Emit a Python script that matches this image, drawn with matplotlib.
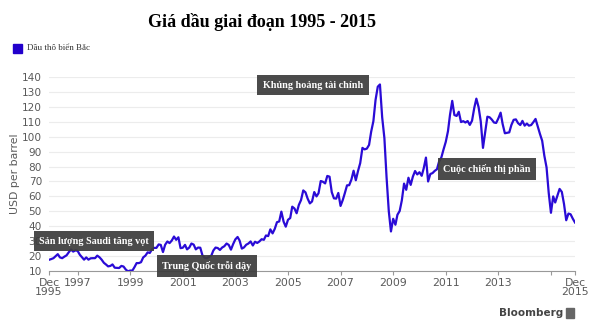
import pandas as pd
import matplotlib
matplotlib.use("Agg")
import matplotlib.pyplot as plt

# Gia dau Brent (bien Bac) theo thang, USD/thung, tu Dec 1995 den Dec 2015
gia_1995 = [17.5]
gia_1996 = [18.0, 18.6, 19.9, 21.3, 19.1, 18.6, 19.6, 20.5, 22.6, 24.4, 23.0, 23.8]
gia_1997 = [23.5, 20.9, 19.3, 17.6, 19.1, 17.6, 18.5, 18.6, 18.6, 20.3, 19.2, 17.6]
gia_1998 = [15.5, 14.3, 13.1, 13.4, 14.4, 12.2, 12.1, 12.0, 13.4, 13.0, 11.0, 9.8]
gia_1999 = [10.3, 10.3, 12.5, 15.3, 15.3, 15.9, 19.1, 20.3, 22.5, 22.1, 24.6, 25.5]
gia_2000 = [25.5, 27.8, 27.5, 22.7, 27.6, 29.8, 28.7, 30.4, 33.1, 30.9, 32.6, 25.3]
gia_2001 = [25.6, 27.5, 24.5, 25.7, 28.4, 27.7, 24.5, 25.7, 25.6, 20.5, 18.9, 18.6]
gia_2002 = [19.5, 20.3, 23.7, 25.7, 25.4, 24.1, 25.7, 26.6, 28.4, 27.5, 24.3, 28.0]
gia_2003 = [31.2, 32.8, 30.4, 25.0, 25.8, 27.6, 28.4, 29.8, 27.1, 29.6, 28.8, 29.8]
gia_2004 = [31.3, 30.9, 33.8, 33.4, 37.9, 35.2, 38.2, 42.7, 43.2, 49.8, 43.1, 39.7]
gia_2005 = [44.3, 45.5, 53.1, 51.9, 48.7, 54.3, 57.5, 64.0, 62.7, 58.5, 55.3, 56.6]
gia_2006 = [62.9, 60.0, 62.1, 70.3, 69.8, 68.7, 73.7, 73.2, 62.8, 58.7, 58.5, 62.3]
gia_2007 = [53.6, 57.6, 62.1, 67.4, 67.5, 71.3, 77.2, 70.8, 77.1, 82.3, 92.5, 91.5]
gia_2008 = [92.0, 94.5, 103.3, 110.4, 124.6, 133.5, 135.0, 113.0, 99.0, 72.8, 50.0, 36.5]
gia_2009 = [45.0, 41.0, 47.7, 50.2, 57.3, 68.6, 64.4, 72.5, 67.7, 73.2, 77.0, 74.7]
gia_2010 = [76.2, 73.8, 78.8, 86.0, 70.0, 75.0, 75.6, 77.1, 78.2, 83.5, 86.1, 91.4]
gia_2011 = [96.5, 103.7, 114.6, 124.0, 114.5, 113.9, 116.7, 109.8, 110.4, 109.5, 110.5, 107.9]
gia_2012 = [110.7, 119.3, 125.5, 119.8, 110.3, 92.5, 102.6, 113.4, 113.0, 111.5, 109.5, 109.2]
gia_2013 = [112.3, 116.1, 108.5, 102.3, 102.6, 102.9, 107.9, 111.3, 111.6, 109.1, 107.8, 110.6]
gia_2014 = [107.4, 108.8, 107.4, 107.8, 109.7, 111.9, 106.9, 101.9, 97.3, 87.3, 79.4, 62.3]
gia_2015 = [49.0, 60.0, 55.9, 60.5, 65.0, 63.0, 55.0, 44.0, 48.5, 48.0, 45.0, 42.5]

gia = (gia_1995 + gia_1996 + gia_1997 + gia_1998 + gia_1999 + gia_2000 + gia_2001
       + gia_2002 + gia_2003 + gia_2004 + gia_2005 + gia_2006 + gia_2007 + gia_2008
       + gia_2009 + gia_2010 + gia_2011 + gia_2012 + gia_2013 + gia_2014 + gia_2015)
thang = pd.date_range("1995-12-01", "2015-12-01", freq="MS")

nam_nhan = [1997, 1999, 2001, 2003, 2005, 2007, 2009, 2011, 2013]

MAU_LINE = "#2a0bd6"
MAU_CHU = "#5a5a5a"
W, H = 600, 333

fig = plt.figure(figsize=(6, 3.33), dpi=100)
fig.patch.set_facecolor("white")
ax = fig.add_axes([49 / W, 1 - 271 / H, (575 - 49) / W, (271 - 77) / H])

ax.plot(thang, gia, color=MAU_LINE, lw=1.6, solid_joinstyle="round", zorder=3)

ax.set_xlim(thang[0], thang[-1])
ax.set_ylim(10, 140)
ax.set_yticks(range(10, 141, 10))
ax.grid(axis="y", color="#ececec", lw=0.8)
ax.tick_params(axis="y", length=0, labelsize=7.6, labelcolor=MAU_CHU, pad=5)

# vach chia: thang 1 cac nam le, them mot vach o 2015 va hai dau truc
vach = [pd.Timestamp(f"{n}-01-01") for n in nam_nhan] + [pd.Timestamp("2015-01-01")]
ax.set_xticks([thang[0]] + vach + [thang[-1]])
ax.set_xticklabels(["Dec\n1995"] + [str(n) for n in nam_nhan] + ["", "Dec\n2015"],
                   linespacing=0.85)
ax.tick_params(axis="x", length=3, color="#999999", labelsize=7.8,
               labelcolor=MAU_CHU, pad=2)
for s in ["top", "right", "left"]:
    ax.spines[s].set_visible(False)
ax.spines["bottom"].set_color("#999999")
fig.text(15 / W, 1 - 174 / H, "USD per barrel", rotation=90, ha="center", va="center",
         fontsize=7.8, color=MAU_CHU)

# tieu de va chu thich
fig.text(262 / W, 1 - 22 / H, "Giá dầu giai đoạn 1995 - 2015", ha="center", va="center",
         fontsize=13, fontweight="bold", family="Liberation Serif")
fig.patches.append(plt.Rectangle((13 / W, 1 - 53 / H), 9 / W, 9 / H,
                                 transform=fig.transFigure, color="#2200cc"))
fig.text(27 / W, 1 - 48.5 / H, "Dầu thô biển Bắc", ha="left", va="center",
         fontsize=6.5, family="Liberation Serif", color="#333333")

# cac hop ghi chu su kien
hop = dict(boxstyle="square,pad=0.55", fc="#3d3d3d", ec="none", alpha=0.93)
ghi_chu = [
    (94, 241, "Sản lượng Saudi tăng vọt"),
    (207, 266, "Trung Quốc trỗi dậy"),
    (313, 85, "Khủng hoảng tài chính"),
    (487, 169, "Cuộc chiến thị phần"),
]
for x, y, chu in ghi_chu:
    fig.text(x / W, 1 - y / H, chu, ha="center", va="center", color="white",
             fontsize=7.3, fontweight="bold", family="Liberation Serif",
             bbox=hop, zorder=5)

fig.text(563 / W, 1 - 313 / H, "Bloomberg", ha="right", va="center",
         fontsize=7.5, fontweight="semibold", color="#444444")
fig.patches.append(plt.Rectangle((566 / W, 1 - 318 / H), 8 / W, 10 / H,
                                 transform=fig.transFigure, color="#666666"))

fig.savefig("out.png", dpi=100)
